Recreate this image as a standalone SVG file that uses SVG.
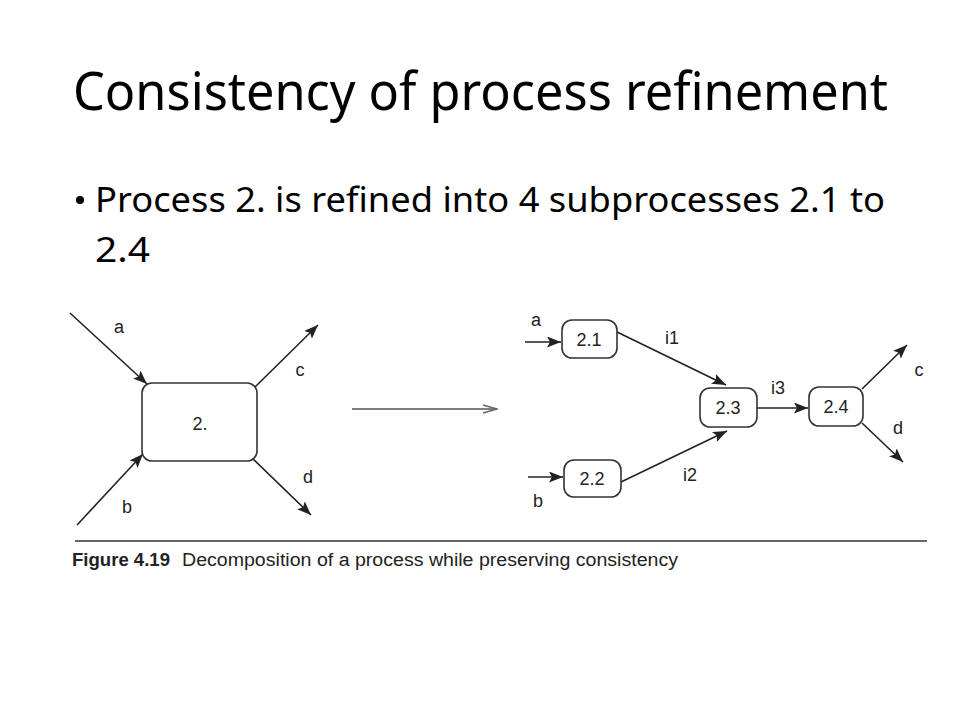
<svg xmlns="http://www.w3.org/2000/svg" width="960" height="720" viewBox="0 0 960 720">
<defs>
<style>
.title{font-family:"Noto Sans","Open Sans",sans-serif;font-size:53px;fill:#000}
.body{font-family:"Noto Sans","Open Sans",sans-serif;font-size:34px;fill:#000}
.lbl{font-family:"Liberation Sans",Arial,sans-serif;font-size:18px;fill:#222}
.box{fill:#fff;stroke:#333;stroke-width:1.6}
.edge{fill:none;stroke:#222;stroke-width:1.6;marker-end:url(#ah)}
.cap{font-family:"Liberation Sans",Arial,sans-serif;font-size:18px;fill:#222}
</style>
<marker id="ah" markerUnits="userSpaceOnUse" markerWidth="15" markerHeight="11" refX="14" refY="5.5" orient="auto">
<path d="M0,0 L14,5.5 L0,11 L3,5.5 z" fill="#222"/>
</marker>
<marker id="oh" markerUnits="userSpaceOnUse" markerWidth="16" markerHeight="10" refX="15" refY="5" orient="auto">
<path d="M1,1 L15,5 L1,9" fill="none" stroke="#666" stroke-width="1.5"/>
</marker>
</defs>
<rect width="960" height="720" fill="#fff"/>
<text class="title" x="73" y="110" textLength="815" lengthAdjust="spacingAndGlyphs">Consistency of process refinement</text>
<circle cx="80" cy="200" r="4" fill="#000"/>
<text class="body" x="95" y="212" textLength="790" lengthAdjust="spacingAndGlyphs">Process 2. is refined into 4 subprocesses 2.1 to</text>
<text class="body" x="95" y="262" textLength="55" lengthAdjust="spacingAndGlyphs">2.4</text>

<g id="connectors">
<line class="edge" x1="70" y1="313" x2="147" y2="384"/>
<line class="edge" x1="255" y1="387" x2="318" y2="325"/>
<line class="edge" x1="77" y1="525" x2="143" y2="454"/>
<line class="edge" x1="253" y1="459" x2="311" y2="515"/>
<line x1="352" y1="409" x2="497" y2="409" stroke="#555" stroke-width="1.5" marker-end="url(#oh)"/>
<line class="edge" x1="525" y1="342" x2="561" y2="342"/>
<line class="edge" x1="528" y1="477" x2="563" y2="477"/>
<line class="edge" x1="617" y1="332" x2="726" y2="385"/>
<line class="edge" x1="621" y1="482" x2="727" y2="431"/>
<line class="edge" x1="757" y1="408" x2="808" y2="408"/>
<line class="edge" x1="862" y1="389" x2="907" y2="345"/>
<line class="edge" x1="862" y1="423" x2="903" y2="462"/>
</g>

<g id="edge-labels">
<text class="lbl" x="119" y="333" text-anchor="middle">a</text>
<text class="lbl" x="300" y="376" text-anchor="middle">c</text>
<text class="lbl" x="127" y="513" text-anchor="middle">b</text>
<text class="lbl" x="308" y="483" text-anchor="middle">d</text>
<text class="lbl" x="536" y="326" text-anchor="middle">a</text>
<text class="lbl" x="538" y="507" text-anchor="middle">b</text>
<text class="lbl" x="672" y="344" text-anchor="middle">i1</text>
<text class="lbl" x="690" y="481" text-anchor="middle">i2</text>
<text class="lbl" x="778" y="394" text-anchor="middle">i3</text>
<text class="lbl" x="919" y="376" text-anchor="middle">c</text>
<text class="lbl" x="898" y="434" text-anchor="middle">d</text>
</g>

<g id="node-2">
<rect class="box" x="142" y="383" width="115" height="78" rx="10"/>
<text class="lbl" x="200" y="430" text-anchor="middle">2.</text>
</g>
<g id="node-2-1">
<rect class="box" x="562" y="320" width="55" height="38" rx="10"/>
<text class="lbl" x="589" y="346" text-anchor="middle">2.1</text>
</g>
<g id="node-2-2">
<rect class="box" x="564" y="460" width="57" height="37" rx="10"/>
<text class="lbl" x="592" y="485" text-anchor="middle">2.2</text>
</g>
<g id="node-2-3">
<rect class="box" x="700" y="388" width="57" height="39" rx="10"/>
<text class="lbl" x="728" y="414" text-anchor="middle">2.3</text>
</g>
<g id="node-2-4">
<rect class="box" x="809" y="387" width="54" height="39" rx="10"/>
<text class="lbl" x="836" y="413" text-anchor="middle">2.4</text>
</g>

<line x1="75" y1="541" x2="927" y2="541" stroke="#333" stroke-width="1.5"/>
<text class="cap" x="72" y="566" font-weight="bold" textLength="98" lengthAdjust="spacingAndGlyphs">Figure 4.19</text>
<text class="cap" x="182" y="566" textLength="496" lengthAdjust="spacingAndGlyphs">Decomposition of a process while preserving consistency</text>
</svg>
